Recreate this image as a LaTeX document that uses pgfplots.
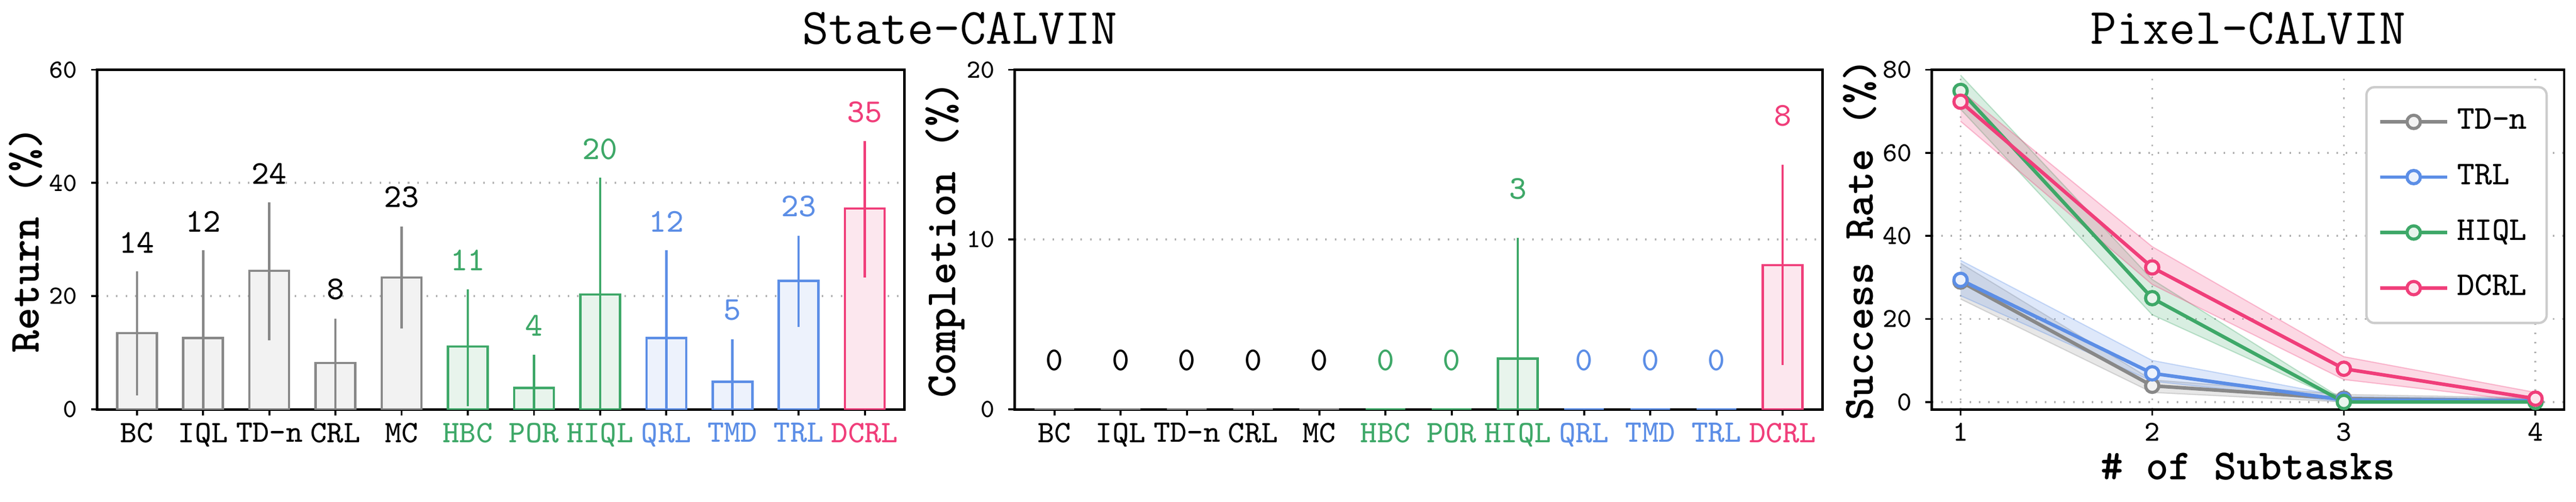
\documentclass[border=0pt]{standalone}
\usepackage{fontspec}
\usepackage{pgfplots}
\pgfplotsset{compat=1.18}
\usepackage{pgfplotstable}

\definecolor{cgray}{RGB}{136,136,136}
\definecolor{fgray}{RGB}{242,242,242}
\definecolor{cgreen}{RGB}{62,168,104}
\definecolor{fgreen}{RGB}{232,244,236}
\definecolor{cblue}{RGB}{92,142,230}
\definecolor{fblue}{RGB}{237,242,252}
\definecolor{cpink}{RGB}{240,62,122}
\definecolor{fpink}{RGB}{252,231,238}

\newcommand{\fs}[1]{\fontsize{#1}{#1}\selectfont\ttfamily}

% State-CALVIN, return: x, mean, err+, err-, label height, label
\pgfplotstableread{
x  v    ep   em   ly   lab
0  13.5 10.9 11.0 29.5 14
1  12.6 15.5 12.6 33.2 12
2  24.5 12.1 12.3 41.6 24
3  8.2  7.8  8.2  21.2 8
4  23.3 9.0  9.0  37.5 23
}\retgray
\pgfplotstableread{
x  v    ep   em   ly   lab
5  11.1 10.1 10.5 26.4 11
6  3.8  5.9  3.8  14.8 4
7  20.3 20.6 20.3 46.0 20
}\retgreen
\pgfplotstableread{
x  v    ep   em   ly   lab
8  12.6 15.5 12.6 33.2 12
9  4.9  7.5  4.9  17.6 5
10 22.7 8.0  8.1  35.9 23
}\retblue
\pgfplotstableread{
x  v    ep   em   ly   lab
11 35.5 11.9 12.2 52.5 35
}\retpink

% State-CALVIN, completion
\pgfplotstableread{
x  v    ep   em   ly   lab
0  0    0    0    2.9  0
1  0    0    0    2.9  0
2  0    0    0    2.9  0
3  0    0    0    2.9  0
4  0    0    0    2.9  0
}\comgray
\pgfplotstableread{
x  v    ep   em   ly   lab
5  0    0    0    2.9  0
6  0    0    0    2.9  0
7  3.0  7.1  3.0  13.0 3
}\comgreen
\pgfplotstableread{
x  v    ep   em   ly   lab
8  0    0    0    2.9  0
9  0    0    0    2.9  0
10 0    0    0    2.9  0
}\comblue
\pgfplotstableread{
x  v    ep   em   ly   lab
11 8.5  5.9  5.9  17.3 8
}\compink

% Pixel-CALVIN means
\pgfplotstableread{
x m
1 29.0
2 3.9
3 0.8
4 0.3
}\pixgray
\pgfplotstableread{
x m
1 29.4
2 6.9
3 0.5
4 0.3
}\pixblue
\pgfplotstableread{
x m
1 74.9
2 25.0
3 0.0
4 0.0
}\pixgreen
\pgfplotstableread{
x m
1 72.3
2 32.4
3 8.0
4 0.8
}\pixpink
% Pixel-CALVIN bands: upper edge left to right, then lower edge right to left
\pgfplotstableread{
x y
1 33.4
2 5.3
3 1.8
4 1.0
4 0.0
3 0.0
2 2.3
1 24.8
}\bandgray
\pgfplotstableread{
x y
1 34.1
2 10.0
3 1.3
4 0.8
4 0.0
3 0.0
2 5.0
1 25.6
}\bandblue
\pgfplotstableread{
x y
1 78.7
2 29.5
3 0.5
4 0.3
4 0.0
3 0.0
2 21.0
1 70.5
}\bandgreen
\pgfplotstableread{
x y
1 75.0
2 37.4
3 10.9
4 2.3
4 0.0
3 5.4
2 28.3
1 67.6
}\bandpink

\pgfplotsset{
  panel/.style={
    scale only axis, height=86.7pt, anchor=south west,
    axis line style={line width=0.6pt},
    tick align=outside, tick pos=left, major tick length=1.6pt,
    tick style={black, line width=0.5pt},
    /pgf/number format/assume math mode=true,
    yticklabel style={font=\fs{6.7}},
    xticklabel style={inner sep=0pt, yshift=-1.65pt},
    ylabel style={font=\fs{11}\bfseries, anchor=center, inner sep=0pt},
    every axis title shift=0pt,
    title style={font=\fs{13}, anchor=center, inner sep=0pt},
    grid style={dotted, line width=0.5pt, black!30},
  },
  bars/.style 2 args={
    ybar, bar width=0.6, bar shift=0pt, draw=#1, fill=#2, line width=0.6pt,
    error bars/y dir=both, error bars/y explicit, error bars/error mark=none,
    error bars/error bar style={draw=#1, line width=0.6pt},
  },
  vals/.style={
    draw=none, mark=none, nodes near coords, point meta=explicit symbolic,
    every node near coord/.append style={text=#1, font=\fs{8.5}, anchor=center},
  },
  band/.style={fill=#1, fill opacity=0.2, draw=#1, draw opacity=0.3,
    line width=0.3pt, forget plot},
  curve/.style 2 args={color=#1, line width=0.9pt, mark=*, mark size=1.7pt,
    mark options={fill=#2, draw=#1, line width=0.8pt}},
}

\newcommand{\methodlabels}{BC, IQL, TD-n, CRL, MC,
  \textcolor{cgreen}{HBC}, \textcolor{cgreen}{POR}, \textcolor{cgreen}{HIQL},
  \textcolor{cblue}{QRL}, \textcolor{cblue}{TMD}, \textcolor{cblue}{TRL},
  \textcolor{cpink}{DCRL}}

\begin{document}
\begin{tikzpicture}
\useasboundingbox (0,0) rectangle (657pt,128pt);

\begin{axis}[panel, at={(24.8pt,23.5pt)}, width=205.9pt,
  xmin=-0.6, xmax=11.6, ymin=0, ymax=60, ytick={0,20,40,60}, ymajorgrids,
  xtick={0,...,11}, xticklabels/.expand once=\methodlabels,
  xticklabel style={font=\fs{8}},
  ylabel={Return (\%)}, ylabel style={at={(axis description cs:-0.0889,0.5)}},
  title={State-CALVIN},
  title style={at={(axis description cs:1.0685,1.121)}}]
\addplot[bars={cgray}{fgray}] table[x=x, y=v, y error plus=ep, y error minus=em] {\retgray};
\addplot[bars={cgreen}{fgreen}] table[x=x, y=v, y error plus=ep, y error minus=em] {\retgreen};
\addplot[bars={cblue}{fblue}] table[x=x, y=v, y error plus=ep, y error minus=em] {\retblue};
\addplot[bars={cpink}{fpink}] table[x=x, y=v, y error plus=ep, y error minus=em] {\retpink};
\addplot[vals=black] table[x=x, y=ly, meta=lab] {\retgray};
\addplot[vals=cgreen] table[x=x, y=ly, meta=lab] {\retgreen};
\addplot[vals=cblue] table[x=x, y=ly, meta=lab] {\retblue};
\addplot[vals=cpink] table[x=x, y=ly, meta=lab] {\retpink};
\end{axis}

\begin{axis}[panel, at={(258.8pt,23.5pt)}, width=206pt,
  xmin=-0.6, xmax=11.6, ymin=0, ymax=20, ytick={0,10,20}, ymajorgrids,
  xtick={0,...,11}, xticklabels/.expand once=\methodlabels,
  xticklabel style={font=\fs{8}},
  ylabel={Completion (\%)}, ylabel style={at={(axis description cs:-0.0864,0.5)}}]
\addplot[bars={cgray}{fgray}] table[x=x, y=v, y error plus=ep, y error minus=em] {\comgray};
\addplot[bars={cgreen}{fgreen}] table[x=x, y=v, y error plus=ep, y error minus=em] {\comgreen};
\addplot[bars={cblue}{fblue}] table[x=x, y=v, y error plus=ep, y error minus=em] {\comblue};
\addplot[bars={cpink}{fpink}] table[x=x, y=v, y error plus=ep, y error minus=em] {\compink};
\addplot[vals=black] table[x=x, y=ly, meta=lab] {\comgray};
\addplot[vals=cgreen] table[x=x, y=ly, meta=lab] {\comgreen};
\addplot[vals=cblue] table[x=x, y=ly, meta=lab] {\comblue};
\addplot[vals=cpink] table[x=x, y=ly, meta=lab] {\compink};
\end{axis}

\begin{axis}[panel, at={(492.7pt,23.5pt)}, width=161.3pt,
  xmin=0.85, xmax=4.15, ymin=-1.8, ymax=80,
  xtick={1,2,3,4}, ytick={0,20,40,60,80}, grid=major,
  xticklabel style={font=\fs{7.4}}, yticklabel style={font=\fs{7}},
  xlabel={\# of Subtasks},
  xlabel style={font=\fs{11}\bfseries, at={(axis description cs:0.5,-0.168)}, anchor=center, inner sep=0pt},
  ylabel={Success Rate (\%)}, ylabel style={at={(axis description cs:-0.1135,0.5)}},
  title={Pixel-CALVIN},
  title style={at={(axis description cs:0.5,1.121)}},
  legend style={at={(axis description cs:0.974,0.952)}, anchor=north east,
    draw=black!20, line width=0.6pt, rounded corners=2pt, font=\fs{8.5},
    row sep=3.4pt, inner xsep=3pt, inner ysep=3.5pt,
    /tikz/every even column/.append style={column sep=5.5pt}},
  legend cell align=left,
  legend image code/.code={\draw[mark repeat=2,mark phase=2] plot coordinates {(0pt,0pt) (8.6pt,0pt) (17.2pt,0pt)};}]
\addplot[band=cgray] table[x=x, y=y] {\bandgray};
\addplot[band=cblue] table[x=x, y=y] {\bandblue};
\addplot[band=cgreen] table[x=x, y=y] {\bandgreen};
\addplot[band=cpink] table[x=x, y=y] {\bandpink};
\addplot[curve={cgray}{fgray}] table[x=x, y=m] {\pixgray};
\addplot[curve={cblue}{fblue}] table[x=x, y=m] {\pixblue};
\addplot[curve={cgreen}{fgreen}] table[x=x, y=m] {\pixgreen};
\addplot[curve={cpink}{fpink}] table[x=x, y=m] {\pixpink};
\legend{TD-n, TRL, HIQL, DCRL}
\end{axis}
\end{tikzpicture}
\end{document}
